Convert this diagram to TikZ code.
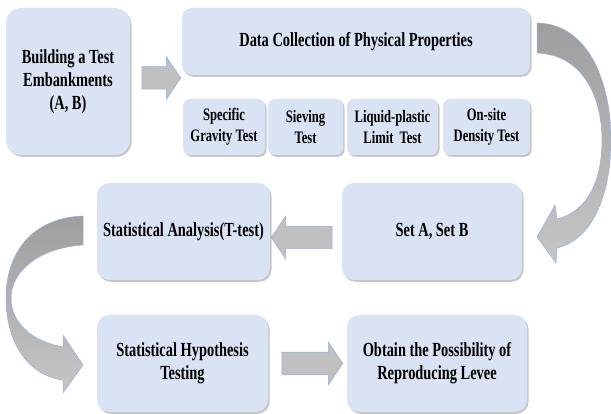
\documentclass[tikz,border=0pt]{standalone}
\usepackage{fontspec}
\setmainfont{Liberation Serif}[FakeStretch=0.72]
\usepackage{tikz}
\usetikzlibrary{shapes.arrows,shadows}
\definecolor{stbox}{RGB}{218,227,243}
\definecolor{stline}{RGB}{150,176,222}
\definecolor{starr}{RGB}{192,192,192}
\definecolor{stdark}{RGB}{158,158,158}
\definecolor{stlight}{RGB}{198,198,198}
\tikzset{
  stepbox/.style={
    fill=stbox, draw=none, align=center, inner sep=0pt,
    font=\bfseries\fontsize{20}{23}\selectfont,
    drop shadow={shadow xshift=1.5pt, shadow yshift=-1.8pt, opacity=0.45}
  },
  big/.style={stepbox, rounded corners=12pt, minimum height=97pt},
  small/.style={stepbox, rounded corners=7pt, minimum height=56pt,
    font=\bfseries\fontsize{17.5}{21}\selectfont},
  blk/.style={
    single arrow, fill=starr, draw=stline, line width=0.5pt,
    inner sep=0pt, text width=0pt, text height=11pt, text depth=11pt,
    single arrow head extend=10pt, single arrow tip angle=112
  },
  curv/.style={draw=stline, line width=0.5pt, top color=stdark, bottom color=stlight}
}

\begin{document}
\begin{tikzpicture}[x=1pt,y=-1pt]
  \useasboundingbox (0,0) rectangle (611,414);
  % top row
  \node[stepbox, rounded corners=15pt, minimum width=124pt, minimum height=147pt]
    (build) at (68,81.5) {Building a Test\\Embankments\\(A, B)};
  \node[stepbox, rounded corners=10pt, minimum width=348pt, minimum height=67pt]
    (data) at (356,41.5) {Data Collection of Physical Properties};
  \node[small, minimum width=82pt] (grav) at (224,127) {Specific\\Gravity Test};
  \node[small, minimum width=75pt] (siev) at (305.5,127) {Sieving\\Test};
  \node[small, minimum width=91pt] (limit) at (392.5,127) {Liquid-plastic\\Limit\, Test};
  \node[small, minimum width=87pt] (dens) at (486.5,127) {On-site\\Density Test};
  % middle and bottom rows
  \node[big, minimum width=173pt] (stat) at (183.5,231.5) {Statistical Analysis(T-test)};
  \node[big, minimum width=180pt] (setab) at (432,231.5) {Set A, Set B};
  \node[big, minimum width=171pt] (hyp) at (182.5,363.5) {Statistical Hypothesis\\Testing};
  \node[big, minimum width=180pt] (obt) at (437,363.5) {Obtain the Possibility of\\Reproducing Levee};
  % block arrows
  \node[blk, minimum height=39pt] (ar1) at (157.5,78) {};
  \node[blk, minimum height=61pt, shape border rotate=180] (ar2) at (305.5,237.5) {};
  \node[blk, minimum height=61pt] (ar3) at (308.5,363.5) {};
  % curved arrows
  \path[curv] (537,23) .. controls (590,24) and (611,85) .. (611,140)
    .. controls (611,195) and (592,240) .. (557,248) -- (556,263) -- (537,237)
    -- (555,205) -- (557,219) .. controls (585,212) and (602,185) .. (602,140)
    .. controls (602,100) and (585,55) .. (537,53) -- cycle;
  \path[curv] (83,216) .. controls (30,218) and (6,255) .. (6,298)
    .. controls (6,345) and (30,376) .. (63,380) -- (63,393) -- (83,365)
    -- (63,335) -- (63,347) .. controls (35,342) and (11,325) .. (11,298)
    .. controls (11,272) and (38,248) .. (83,245) -- cycle;
\end{tikzpicture}
\end{document}
